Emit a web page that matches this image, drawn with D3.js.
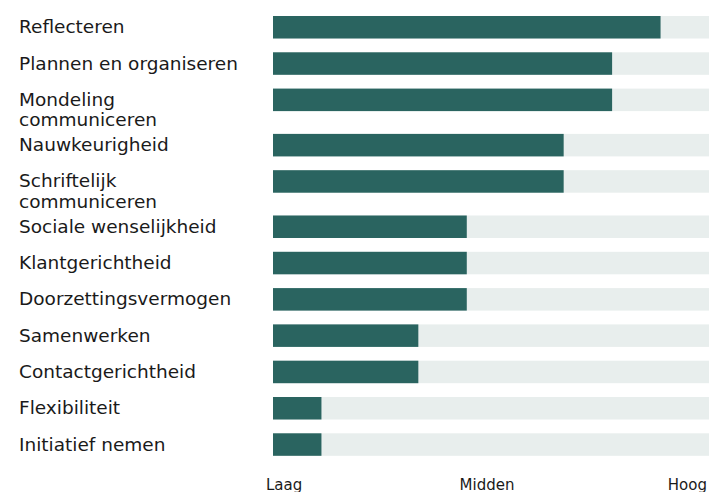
<!DOCTYPE html>
<html lang="nl">
<head>
  <meta charset="utf-8">
  <title>Competenties</title>
  <script src="https://d3js.org/d3.v7.min.js"></script>
  <style>
    body { margin: 0; background: #fff; }
    text { font-family: "DejaVu Sans", Verdana, sans-serif; fill: #1a1a1a; }
  </style>
</head>
<body>
  <div id="vis"></div>
  <script>
    // data
    var labels = [
      ["Reflecteren"],
      ["Plannen en organiseren"],
      ["Mondeling", "communiceren"],
      ["Nauwkeurigheid"],
      ["Schriftelijk", "communiceren"],
      ["Sociale wenselijkheid"],
      ["Klantgerichtheid"],
      ["Doorzettingsvermogen"],
      ["Samenwerken"],
      ["Contactgerichtheid"],
      ["Flexibiliteit"],
      ["Initiatief nemen"]
    ];
    var scores = [8, 7, 7, 6, 6, 4, 4, 4, 3, 3, 1, 1];
    var maxScore = 9;
    var scaleLabels = ["Laag", "Midden", "Hoog"];
    var scalePos = [0, 4.5, 9];

    var width = 714, height = 492;
    var fontSize = 18.5, lineH = 20.5;
    var barH = 22.5, rowMin = 36.3, gap = 4.3;

    var svg = d3.select("#vis").append("svg")
      .attr("width", width)
      .attr("height", height);

    var x = d3.scaleLinear()
      .domain([0, maxScore])
      .range([273, 709]);

    // row tops, rows with wrapped labels are taller
    var tops = [];
    var acc = 16;
    labels.forEach(function (l) {
      tops.push(acc);
      acc += Math.max(rowMin, l.length * lineH + gap);
    });

    var rows = svg.selectAll("g.row")
      .data(scores)
      .enter()
      .append("g")
      .attr("class", "row")
      .attr("transform", (d, i) => "translate(0," + tops[i] + ")");

    rows.append("rect")
      .attr("x", x(0))
      .attr("y", 0)
      .attr("width", x(maxScore) - x(0))
      .attr("height", barH)
      .attr("fill", "#e8eeed");

    rows.append("rect")
      .attr("x", x(0))
      .attr("y", 0)
      .attr("width", d => x(d) - x(0))
      .attr("height", barH)
      .attr("fill", "#2a6460");

    var lbl = rows.append("text")
      .attr("x", 19)
      .attr("y", 17.3)
      .style("font-size", fontSize + "px");

    lbl.selectAll("tspan")
      .data((d, i) => labels[i])
      .enter()
      .append("tspan")
      .attr("x", 19)
      .attr("dy", (d, j) => j === 0 ? 0 : lineH)
      .text(d => d);

    var anchors = ["start", "middle", "end"];
    var shift = [-7, -4, -2];
    svg.selectAll("text.scale")
      .data(scaleLabels)
      .enter()
      .append("text")
      .attr("class", "scale")
      .attr("x", (d, i) => x(scalePos[i]) + shift[i])
      .attr("y", 489.5)
      .attr("text-anchor", (d, i) => anchors[i])
      .style("font-size", "15px")
      .text(d => d);
  </script>
</body>
</html>
